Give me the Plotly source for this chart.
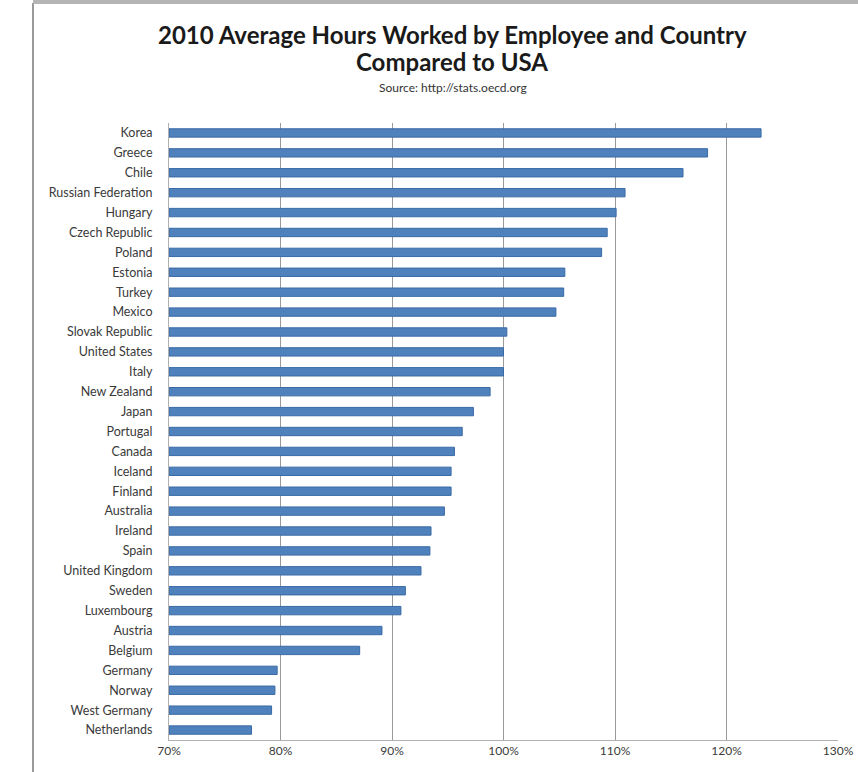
import plotly.graph_objects as go

countries = ["Korea", "Greece", "Chile", "Russian Federation", "Hungary", "Czech Republic",
             "Poland", "Estonia", "Turkey", "Mexico", "Slovak Republic", "United States",
             "Italy", "New Zealand", "Japan", "Portugal", "Canada", "Iceland", "Finland",
             "Australia", "Ireland", "Spain", "United Kingdom", "Sweden", "Luxembourg",
             "Austria", "Belgium", "Germany", "Norway", "West Germany", "Netherlands"]
pct_of_usa = [123.1, 118.3, 116.1, 110.9, 110.1, 109.3,
              108.8, 105.5, 105.4, 104.7, 100.3, 100.0,
              100.0, 98.8, 97.3, 96.3, 95.6, 95.3, 95.3,
              94.7, 93.5, 93.4, 92.6, 91.2, 90.8,
              89.1, 87.1, 79.7, 79.5, 79.2, 77.4]
tick_vals = [70, 80, 90, 100, 110, 120, 130]
tick_text = ["70%", "80%", "90%", "100%", "110%", "120%", "130%"]

W, H = 858, 772
L, R, T, B = 169, 20, 123, 32
pw, ph = W - L - R, H - T - B

def px_x(x):
    return (x - L) / pw

def px_y(y):
    return (H - B - y) / ph

FONT = "Lato, 'Open Sans', sans-serif"

fig = go.Figure()
fig.add_trace(go.Bar(
    x=[v - 70 for v in pct_of_usa], base=70, y=countries, orientation="h",
    marker=dict(color="#4f81bd", line=dict(color="#3a6aa5", width=1)),
    width=0.42, hoverinfo="skip"))

fig.update_layout(
    width=W, height=H,
    margin=dict(l=L, r=R, t=T, b=B, autoexpand=False),
    paper_bgcolor="white", plot_bgcolor="white",
    showlegend=False,
    font=dict(family=FONT, color="#3a3a3a"),
    xaxis=dict(range=[70, 130], tickvals=tick_vals, ticktext=tick_text,
               showgrid=True, gridcolor="#9a9a9a", gridwidth=1,
               showline=True, linecolor="#b0b0b0", linewidth=1,
               ticks="", tickfont=dict(size=12, color="#3a3a3a"), zeroline=False,
               fixedrange=True),
    yaxis=dict(autorange="reversed", tickfont=dict(size=12.5, color="#3a3a3a"),
               showline=True, linecolor="#b0b0b0", linewidth=1,
               ticks="", ticklabelstandoff=13, showgrid=False, fixedrange=True),
)

fig.add_annotation(text="<b>2010 Average Hours Worked by Employee and Country</b>",
                   xref="paper", yref="paper", x=px_x(452), y=px_y(35),
                   xanchor="center", yanchor="middle", showarrow=False,
                   font=dict(size=24, color="#1a1a1a", family=FONT))
fig.add_annotation(text="<b>Compared to USA</b>",
                   xref="paper", yref="paper", x=px_x(452), y=px_y(62),
                   xanchor="center", yanchor="middle", showarrow=False,
                   font=dict(size=24, color="#1a1a1a", family=FONT))
fig.add_annotation(text="Source: http://stats.oecd.org", xref="paper", yref="paper",
                   x=px_x(453), y=px_y(87), xanchor="center", yanchor="middle",
                   showarrow=False, font=dict(size=12, color="#333", family=FONT))

# outer chart frame (left and top edges of the embedded chart border)
fig.add_shape(type="line", xref="paper", yref="paper",
              x0=px_x(33), x1=px_x(33), y0=px_y(3), y1=px_y(H + 10),
              line=dict(color="#9a9a9a", width=2))
fig.add_shape(type="line", xref="paper", yref="paper",
              x0=px_x(33), x1=px_x(W + 10), y0=px_y(2), y1=px_y(2),
              line=dict(color="#b5b5b5", width=4))

fig.write_html("out.html", config={"displayModeBar": False},
               post_script="document.body.style.margin='0';document.body.style.padding='0';")
